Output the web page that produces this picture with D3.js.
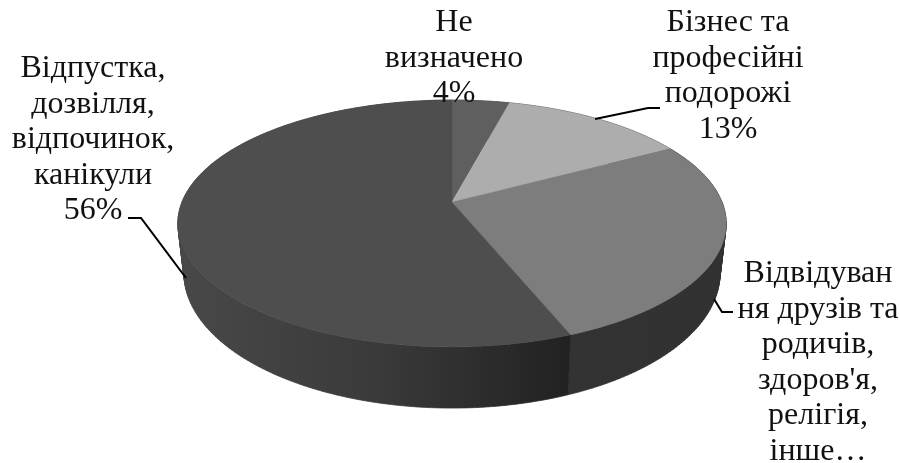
<!DOCTYPE html>
<html><head><meta charset="utf-8">
<script src="https://cdnjs.cloudflare.com/ajax/libs/d3/7.8.5/d3.min.js"></script>
<style>html,body{margin:0;padding:0;background:#fff;overflow:hidden}svg{display:block}
#root{filter:blur(0.45px)}
text{font-family:"Times New Roman","Liberation Serif",serif;fill:#111;text-anchor:middle}</style>
</head><body><svg id="c" width="900" height="463"></svg>
<script>
const categories = ["Не визначено","Бізнес та професійні подорожі","Відвідування друзів та родичів, здоров'я, релігія, інше…","Відпустка, дозвілля, відпочинок, канікули"];
const values = [4,13,27,56];
const labelLines = [
  ["Не","визначено","4%"],
  ["Бізнес та","професійні","подорожі","13%"],
  ["Відвідуван","ня друзів та","родичів,","здоров'я,","релігія,","інше…"],
  ["Відпустка,","дозвілля,","відпочинок,","канікули","56%"]
];
const topFills = ["#5f5f5f","#adadad","#7d7d7d","#4e4e4e"];
const sideStops = [["#444","#444"],["#444","#444"],["#333333","#313131"],["#484848","#3a3a3a","#222222"]];

// layout
const labelPos = [[454,31],[728,31],[818,282],[93,77]];
const lineStep = 35.6;
const leaders = [null,[[595,119],[648,108],[660,108]],[[714,299],[722,312],[733,312]],[[128,218],[141,218],[186,278]]];
const cx = 452, persp = 0.174;
const topPlane = {y:202, ax:270, by:119.7};
const botPlane = {y:249.5, ax:264, by:131};

const project = (a,pl)=>{
  const u=Math.sin(a), v=Math.cos(a), w=1+persp*v;
  return [cx+pl.ax*u/w, pl.y-pl.by*v/w];
};
const svg = d3.select("#c");
const defs = svg.append("defs");
const root = svg.append("g").attr("id","root");
const arcs = d3.pie().sort(null).value(d=>d)(values);
const line = d3.line();
const STEP = Math.PI/180;

// sides: one path per slice, shaded by a horizontal gradient
const sides = root.append("g");
arcs.forEach((d,i)=>{
  const n=Math.max(1,Math.round((d.endAngle-d.startAngle)/STEP));
  const a=d3.scaleLinear().domain([0,n]).range([d.startAngle,d.endAngle]);
  const xs=d3.range(n+1).map(k=>project(a(k),botPlane)[0]);
  const x0=d3.min(xs), x1=d3.max(xs);
  const g=defs.append("linearGradient").attr("id","side"+i).attr("gradientUnits","userSpaceOnUse")
    .attr("x1",x0).attr("x2",x1).attr("y1",0).attr("y2",0);
  const stops=sideStops[i];
  stops.forEach((c,k)=>g.append("stop").attr("offset",k/(stops.length-1)*(i===3?(project(d.startAngle,botPlane)[0]-x0)/(x1-x0):1)).attr("stop-color",c));
  const dPath=d3.range(n).map(k=>{
    const q=[project(a(k),topPlane),project(a(k+1),topPlane),project(a(k+1),botPlane),project(a(k),botPlane)];
    if(d3.polygonArea(q)<0) q.reverse();
    return line(q)+"Z";
  }).join("");
  sides.append("path").attr("d",dPath).attr("fill","url(#side"+i+")")
    .attr("stroke","url(#side"+i+")").attr("stroke-width",0.7);
});

// top face
root.append("g").selectAll("path").data(arcs).join("path")
  .attr("d",d=>{
    const n=Math.max(2,Math.round((d.endAngle-d.startAngle)/STEP));
    const a=d3.scaleLinear().domain([0,n]).range([d.startAngle,d.endAngle]);
    return line([[cx,topPlane.y],...d3.range(n+1).map(k=>project(a(k),topPlane))])+"Z";
  })
  .attr("fill",(d,i)=>topFills[i]).attr("stroke",(d,i)=>topFills[i]).attr("stroke-width",0.4);

// leader lines
root.append("g").selectAll("path").data(leaders.filter(Boolean)).join("path")
  .attr("d",d=>line(d)).attr("fill","none").attr("stroke","#000").attr("stroke-width",2);

// labels
labelLines.forEach((lines,i)=>{
  const t=root.append("text").attr("font-size",32);
  lines.forEach((s,k)=>t.append("tspan").attr("x",labelPos[i][0]).attr("y",labelPos[i][1]+k*lineStep).text(s));
});
</script></body></html>
